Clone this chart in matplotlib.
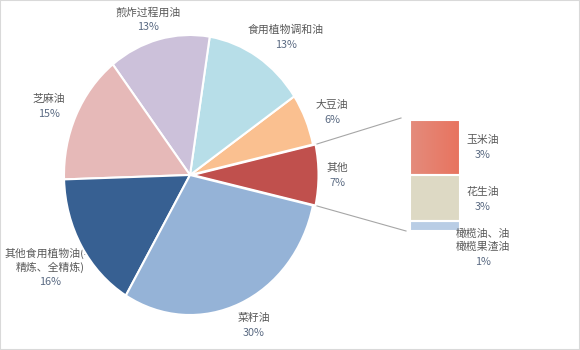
import matplotlib
matplotlib.use("Agg")
import matplotlib.pyplot as plt
import numpy as np
from matplotlib.patches import Rectangle

plt.rcParams['font.family'] = ['Noto Sans CJK SC', 'DejaVu Sans']

# ---- data ----
pie_labels = ['其他', '大豆油', '食用植物调和油', '煎炸过程用油', '芝麻油',
              '其他食用植物油(半\n精炼、全精炼)', '菜籽油']
pie_values = [7, 6, 13, 13, 15, 16, 30]
pie_colors = ['#C0504D', '#FAC090', '#B7DEE8', '#CCC1DA', '#E6B9B8',
              '#376092', '#95B3D7']

bar_labels = ['玉米油', '花生油', '橄榄油、油\n橄榄果渣油']
bar_values = [3.4, 2.9, 0.6]
bar_colors = ['#E8806C', '#DDD9C4', '#B9CDE5']

# ---- layout (pixels) ----
W, H = 580, 350
cx, cy, rx, ry = 190, 175, 126, 140
NAME_C = '#595959'
PCT_C = '#5A6A82'
FS = 7.8

fig = plt.figure(figsize=(W / 100, H / 100), dpi=100)
fig.patch.set_facecolor('white')

ax = fig.add_axes([0, 0, 1, 1])
total = sum(pie_values)
start = -pie_values[0] / total * 180
explode = [0.02] + [0] * (len(pie_values) - 1)
wedges, _ = ax.pie(pie_values, colors=pie_colors, startangle=start,
                   counterclock=True, explode=explode, radius=1, center=(0, 0),
                   wedgeprops=dict(edgecolor='white', linewidth=1.5))
ax.set_aspect('auto')
ax.set_xlim((0 - cx) / rx, (W - cx) / rx)
ax.set_ylim((cy - H) / ry, cy / ry)
ax.axis('off')


def P(x, y):
    return ((x - cx) / rx, (cy - y) / ry)


def pct(v, tot):
    return f"{int(np.floor(v / tot * 100 + 0.5))}%"


# label positions (pixels): (x, name_y, pct_y)
pie_pos = [(337, 168, 183), (332, 105, 120), (286, 30, 45), (148, 12, 27),
           (49, 99, 114), (50, 260.5, 282), (254, 318, 333)]
for lab, v, (x, yn, yp) in zip(pie_labels, pie_values, pie_pos):
    ax.text(*P(x, yn), lab, ha='center', va='center', fontsize=FS,
            color=NAME_C, linespacing=1.34, zorder=0.5)
    ax.text(*P(x, yp), pct(v, total), ha='center', va='center', fontsize=FS,
            color=PCT_C, zorder=0.5)

# connector lines from "其他" wedge to bar
w0 = wedges[0]
for ang, (bx, by) in zip([w0.theta2, w0.theta1], [(401, 118), (406, 231)]):
    a = np.deg2rad(ang)
    x0 = w0.center[0] + np.cos(a)
    y0 = w0.center[1] + np.sin(a)
    x1, y1 = P(bx, by)
    ax.plot([x0, x1], [y0, y1], color='#A6A6A6', lw=0.8, zorder=0.8)

# ---- bar of pie ----
bar_tot = sum(bar_values)
ax2 = fig.add_axes([410 / W, 1 - 231 / H, 50 / W, 111 / H])
ax2.set_xlim(0, 1)
ax2.set_ylim(0, bar_tot)
ax2.axis('off')
bottoms = []
b = 0
for v in reversed(bar_values):
    bottoms.append(b)
    b += v
bottoms = bottoms[::-1]
for i, (v, bt, c) in enumerate(zip(bar_values, bottoms, bar_colors)):
    rects = ax2.bar(0.5, v, bottom=bt, width=1, color=c, edgecolor='none',
                    zorder=1)
    if i == 0:
        grad = np.linspace(0, 1, 64).reshape(1, -1)
        cmap = matplotlib.colors.LinearSegmentedColormap.from_list(
            'g', ['#E48C7C', '#E8735F'])
        im = ax2.imshow(grad, extent=(0, 1, bt, bt + v), aspect='auto',
                        cmap=cmap, zorder=1.5)
        im.set_clip_path(rects[0])
    ax2.bar(0.5, v, bottom=bt, width=1, facecolor='none', edgecolor='white',
            linewidth=1.5, zorder=2)
ax2.set_xlim(0, 1)
ax2.set_ylim(0, bar_tot)

bar_pos = [(483, 140, 155), (483, 192, 207), (483, 240.5, 262)]
for lab, v, (x, yn, yp) in zip(bar_labels, bar_values, bar_pos):
    fig.text(x / W, 1 - yn / H, lab, ha='center', va='center', fontsize=FS,
             color=NAME_C, linespacing=1.34)
    fig.text(x / W, 1 - yp / H, pct(v, total), ha='center', va='center',
             fontsize=FS, color=PCT_C)

fig.patches.append(Rectangle((0, 0), 1, 1, transform=fig.transFigure,
                             fill=False, edgecolor='#D9D9D9', lw=1.5))

fig.savefig('out.png', dpi=100, facecolor='white')
